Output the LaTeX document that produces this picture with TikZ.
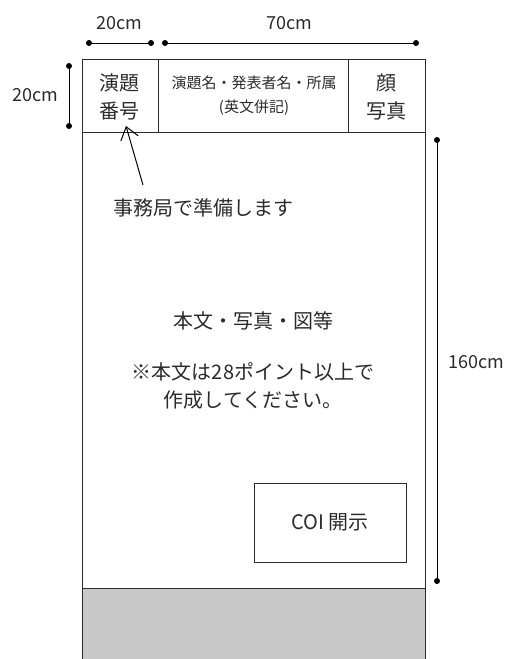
\documentclass[tikz,border=0pt]{standalone}
\usepackage{fontspec}
\setmainfont{Noto Sans CJK JP}
\usetikzlibrary{arrows.meta}

\definecolor{footgray}{HTML}{C8C8C8}
\definecolor{ink}{HTML}{2B2B2B}

\begin{document}
\begin{tikzpicture}[x=1pt, y=-1pt,
    frame/.style={draw=ink, line width=0.9pt},
    txt/.style={inner sep=0pt, text=ink, align=center, font=\fontsize{20}{28}\selectfont},
    dimtxt/.style={inner sep=0pt, text=ink, font=\fontsize{18}{20}\selectfont},
    dimline/.style={draw=black, line width=1pt},
    pointer/.style={draw=black, line width=1pt, -{Straight Barb[length=12pt, width=18pt, line width=1pt]}}]

    % Page
    \useasboundingbox (0,0) rectangle (504,659);
    \clip (0,0) rectangle (504,659);

    % Poster panel
    \fill[footgray] (82,588) rectangle (425,662);
    \draw[frame] (82,662) -- (82,59) -- (425,59) -- (425,662);
    \draw[frame] (82,132) -- (425,132);
    \draw[frame] (82,588) -- (425,588);
    \draw[frame] (158,59) -- (158,132);
    \draw[frame] (348,59) -- (348,132);

    % Header cells
    \node[txt] (num) at (119,97) {演題\\番号};
    \node[txt, font=\fontsize{15}{24}\selectfont] (title) at (254,96) {演題名・発表者名・所属\\(英文併記)};
    \node[txt] (photo) at (386,97) {顔\\写真};

    % Body texts
    \node[txt] (prep) at (203,208) {事務局で準備します};
    \node[txt] (body) at (253,321) {本文・写真・図等};
    \node[txt] (note) at (253,386) {※本文は28ポイント以上で\\作成してください。};
    \node[txt, frame, minimum width=152pt, minimum height=79pt] (coi) at (330,522.5) {COI 開示};

    % Arrow to the number cell
    \coordinate (tail) at (143,185);
    \coordinate (tip) at (126,126);
    \draw[pointer] (tail) -- (tip);

    % Dimensions
    \coordinate (w1a) at (89,43);
    \coordinate (w1b) at (151,43);
    \coordinate (w2a) at (165,43);
    \coordinate (w2b) at (416,43);
    \coordinate (h1a) at (69,66);
    \coordinate (h1b) at (69,126);
    \coordinate (h2a) at (437,140);
    \coordinate (h2b) at (437,581);
    \draw[dimline] (w1a) -- (w1b);
    \draw[dimline] (w2a) -- (w2b);
    \draw[dimline] (h1a) -- (h1b);
    \draw[dimline] (h2a) -- (h2b);
    \foreach \p in {w1a,w1b,w2a,w2b,h1a,h1b,h2a,h2b}
        \fill (\p) circle (3);

    \node[dimtxt] (w1) at (119,23) {20cm};
    \node[dimtxt] (w2) at (289,23) {70cm};
    \node[dimtxt] (h1) at (35,95) {20cm};
    \node[dimtxt, anchor=west] (h2) at (448,362) {160cm};

\end{tikzpicture}
\end{document}
